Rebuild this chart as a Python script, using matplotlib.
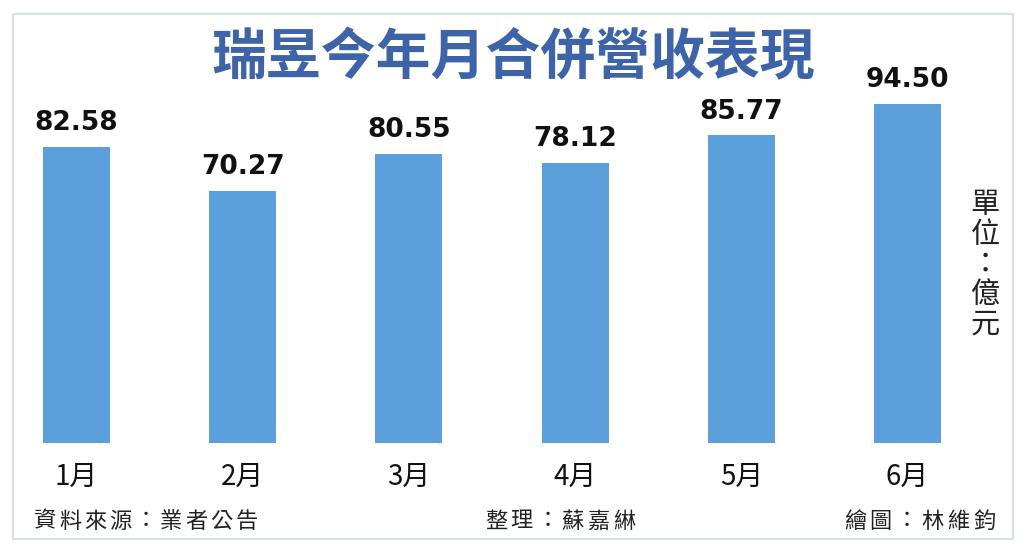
import matplotlib
matplotlib.use("Agg")
import matplotlib.pyplot as plt
from matplotlib.patches import Rectangle

plt.rcParams['font.family'] = ['Noto Sans CJK TC', 'DejaVu Sans']

months = ["1月", "2月", "3月", "4月", "5月", "6月"]
revenue = [82.58, 70.27, 80.55, 78.12, 85.77, 94.50]
value_labels = ["82.58", "70.27", "80.55", "78.12", "85.77", "94.50"]
title = "瑞昱今年月合併營收表現"
unit = "單位：億元"
source = "資料來源：業者公告"
editor = "整理：蘇嘉綝"
artist = "繪圖：林維鈞"

W, H = 1024, 558
fig = plt.figure(figsize=(W / 100, H / 100), dpi=100)
fig.patch.set_facecolor("white")

# border
fig.patches.append(Rectangle((13 / W, 1 - 539 / H), (1013 - 13) / W, (539 - 14) / H,
                             transform=fig.transFigure, fill=False,
                             edgecolor="#d9dfe7", linewidth=1.6))

ax = fig.add_axes([0, 0, 1, 1])
spacing = 166.2
ppu = 3.587
ax.set_xlim(-76.5 / spacing, (W - 76.5) / spacing)
ax.set_ylim(-(H - 443) / ppu, 443 / ppu)
ax.axis("off")

x = list(range(len(months)))
bars = ax.bar(x, revenue, width=67 / spacing, color="#5b9fdc", zorder=2)

for xi, v, lab in zip(x, revenue, value_labels):
    ax.annotate(lab, (xi, v), xytext=(0, 12), textcoords="offset points",
                ha="center", va="baseline", fontsize=19, fontweight="bold",
                family=["DejaVu Sans"], color="#111111")

for xi, m in zip(x, months):
    ax.text(xi, -(477 - 443) / ppu, m, ha="center", va="center",
            fontsize=20, fontweight="medium", color="#111111")

fig.text(513.5 / W, 1 - 58 / H, title, ha="center", va="center",
         fontsize=39.5, fontweight="bold", color="#3d63a8")

fig.text(985 / W, 1 - 265 / H, "\n".join(unit), ha="center", va="center",
         fontsize=21, color="#222222", linespacing=1.0)


def spaced(text, x0, y, pitch, size):
    for i, ch in enumerate(text):
        fig.text((x0 + pitch * (i + 0.5)) / W, 1 - y / H, ch, ha="center",
                 va="center", fontsize=size, color="#222222")


spaced(source, 32, 521, 25.3, 16)
spaced(editor, 483, 521, 25.7, 16)
spaced(artist, 842, 521, 25.8, 16)

fig.savefig("out.png", dpi=100, facecolor="white")
